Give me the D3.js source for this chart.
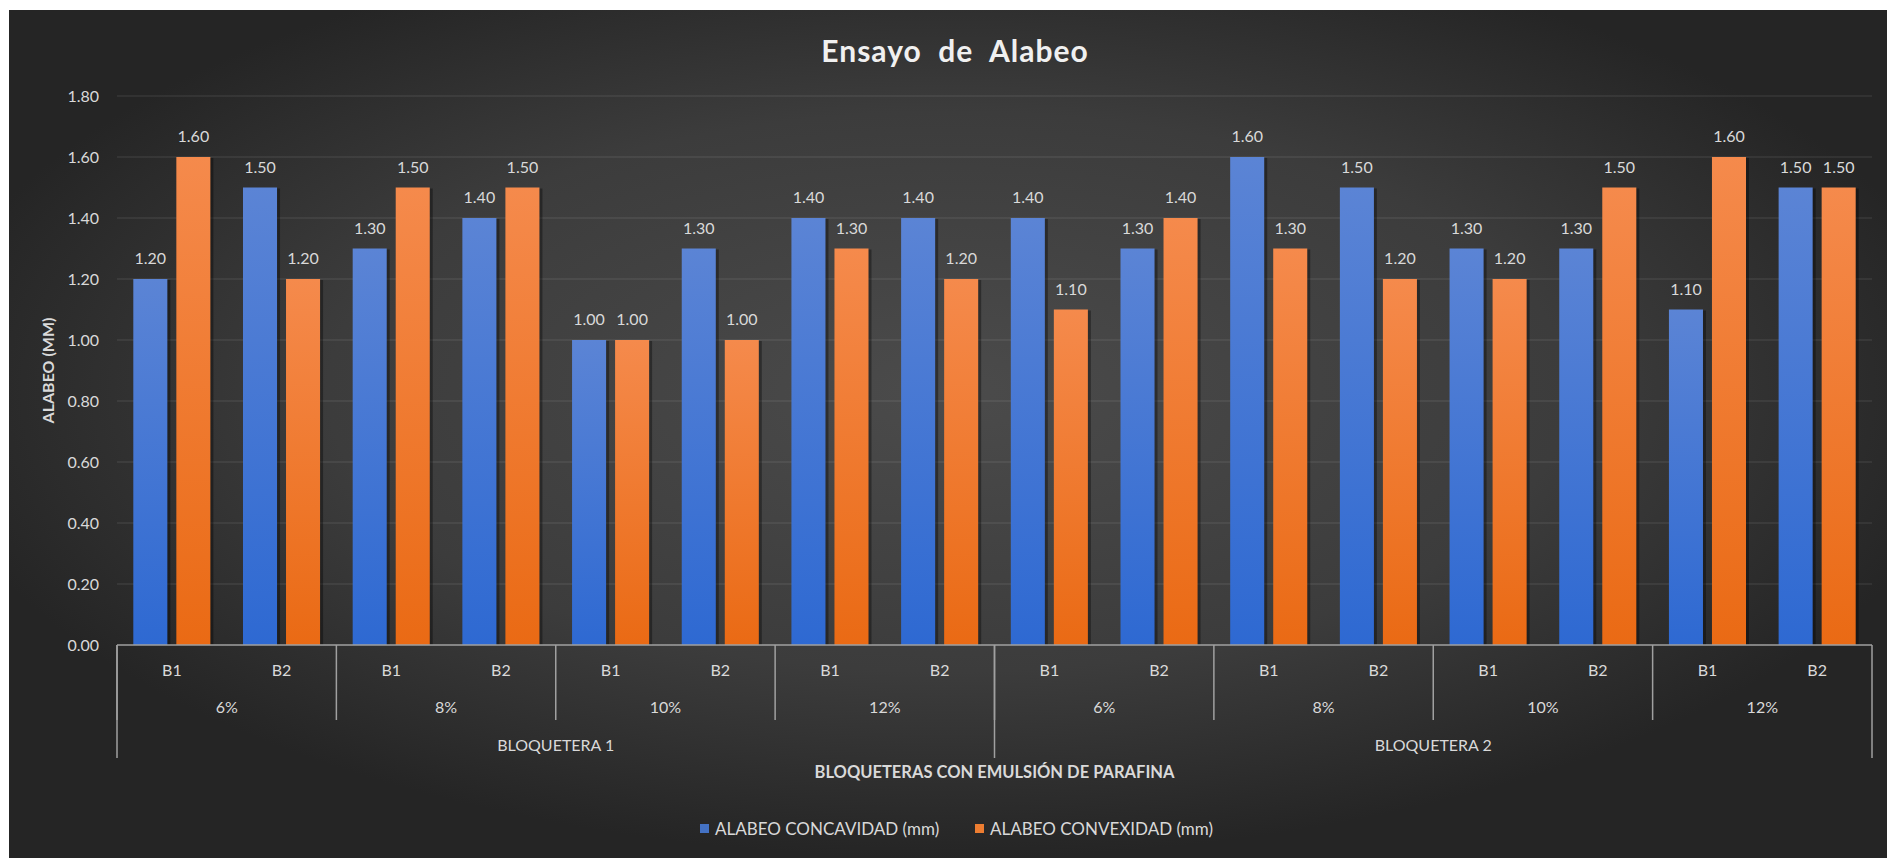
<!DOCTYPE html>
<html>
<head>
<meta charset="utf-8">
<script src="https://cdn.jsdelivr.net/npm/d3@7"></script>
<style>
  html, body { margin: 0; padding: 0; background: #ffffff; }
  svg { display: block; }
  text { font-family: Lato, "Open Sans", sans-serif; }
</style>
</head>
<body>
<svg id="chart" width="1887" height="858"></svg>
<script>
// ---------------- DATA ----------------
const titleText = "Ensayo  de  Alabeo";
const bloqueteras = ["BLOQUETERA 1", "BLOQUETERA 2"];
const porcentajes = ["6%", "8%", "10%", "12%"];
const bloques = ["B1", "B2"];
const seriesNames = ["ALABEO CONCAVIDAD (mm)", "ALABEO CONVEXIDAD (mm)"];
const concavidad = [1.20, 1.50, 1.30, 1.40, 1.00, 1.30, 1.40, 1.40,
                    1.40, 1.30, 1.60, 1.50, 1.30, 1.30, 1.10, 1.50];
const convexidad = [1.60, 1.20, 1.50, 1.50, 1.00, 1.00, 1.30, 1.20,
                    1.10, 1.40, 1.30, 1.20, 1.20, 1.50, 1.60, 1.50];
const yTicks = [0, 0.2, 0.4, 0.6, 0.8, 1.0, 1.2, 1.4, 1.6, 1.8];
const yAxisTitle = "ALABEO (MM)";
const xAxisTitle = "BLOQUETERAS CON EMULSIÓN DE PARAFINA";

(function () {
// -------------- BUILD ROWS --------------
const rows = [];
bloqueteras.forEach((bq) => {
  porcentajes.forEach((p) => {
    bloques.forEach((b) => {
      const idx = rows.length;
      rows.push({ id: idx, bq, p, b, v: [concavidad[idx], convexidad[idx]] });
    });
  });
});

// -------------- LAYOUT --------------
const W = 1887, H = 858;
const pL = 117, pR = 1872, pT = 96, pB = 645;
const textColor = "#d9d9d9";
const lineColor = "#a0a0a0";

const svg = d3.select("#chart");
const defs = svg.append("defs");

const bg = defs.append("radialGradient").attr("id", "bgGrad")
  .attr("cx", 0.5).attr("cy", 0.45).attr("r", 0.55);
bg.append("stop").attr("offset", "0%").attr("stop-color", "#4b4b4b");
bg.append("stop").attr("offset", "60%").attr("stop-color", "#3c3c3c");
bg.append("stop").attr("offset", "100%").attr("stop-color", "#252525");

const blueG = defs.append("linearGradient").attr("id", "blueGrad")
  .attr("x1", 0).attr("y1", 0).attr("x2", 0).attr("y2", 1);
blueG.append("stop").attr("offset", "0%").attr("stop-color", "#5b84d5");
blueG.append("stop").attr("offset", "100%").attr("stop-color", "#2e69d2");
const orangeG = defs.append("linearGradient").attr("id", "orangeGrad")
  .attr("x1", 0).attr("y1", 0).attr("x2", 0).attr("y2", 1);
orangeG.append("stop").attr("offset", "0%").attr("stop-color", "#f58a4c");
orangeG.append("stop").attr("offset", "100%").attr("stop-color", "#ea6a14");
const fills = ["url(#blueGrad)", "url(#orangeGrad)"];
const legendFills = ["#4472c4", "#ed7d31"];

svg.append("rect").attr("x", 9).attr("y", 10).attr("width", W - 9).attr("height", H - 10)
  .attr("fill", "url(#bgGrad)");

// scales
const x0 = d3.scaleBand().domain(rows.map(d => d.id)).range([pL, pR]).paddingInner(0).paddingOuter(0);
const x1 = d3.scaleBand().domain([0, 1]).range([0, x0.bandwidth()]).paddingInner(0.209).paddingOuter(0.379);
const y = d3.scaleLinear().domain([0, 1.8]).range([pB, pT]);

// gridlines
svg.append("g").selectAll("line").data(yTicks.filter(t => t > 0)).join("line")
  .attr("x1", pL).attr("x2", pR)
  .attr("y1", d => y(d)).attr("y2", d => y(d))
  .attr("stroke", "#ffffff").attr("stroke-opacity", 0.13).attr("stroke-width", 1);

// y axis labels
const yAxis = d3.axisLeft(y).tickValues(yTicks).tickFormat(d3.format(".2f")).tickSize(0).tickPadding(0);
const yg = svg.append("g").attr("transform", `translate(${pL - 18},0)`).call(yAxis);
yg.select(".domain").remove();
yg.selectAll("text").attr("fill", textColor).attr("font-size", 16).attr("font-family", "Lato");

// y title
svg.append("text")
  .attr("transform", `translate(47,${(pT + pB) / 2}) rotate(-90)`)
  .attr("text-anchor", "middle").attr("dominant-baseline", "central")
  .attr("font-weight", "bold").attr("font-size", 16).attr("fill", textColor)
  .text(yAxisTitle);

// bars
const groups = svg.append("g").selectAll("g").data(rows).join("g")
  .attr("transform", d => `translate(${x0(d.id)},0)`);

groups.selectAll("rect.shadow").data(d => d.v.map((v, i) => ({ v, i }))).join("rect")
  .attr("class", "shadow")
  .attr("x", d => x1(d.i) + 3).attr("y", d => y(d.v) + 1)
  .attr("width", x1.bandwidth()).attr("height", d => pB - y(d.v) - 1)
  .attr("fill", "#000").attr("fill-opacity", 0.35);

groups.selectAll("rect.bar").data(d => d.v.map((v, i) => ({ v, i }))).join("rect")
  .attr("class", "bar")
  .attr("x", d => x1(d.i)).attr("y", d => y(d.v))
  .attr("width", x1.bandwidth()).attr("height", d => pB - y(d.v))
  .attr("fill", d => fills[d.i]);

groups.selectAll("text.val").data(d => d.v.map((v, i) => ({ v, i }))).join("text")
  .attr("class", "val")
  .attr("x", d => x1(d.i) + x1.bandwidth() / 2).attr("y", d => y(d.v) - 15)
  .attr("text-anchor", "middle").attr("font-size", 16).attr("fill", textColor)
  .text(d => d3.format(".2f")(d.v));

// x axis line
svg.append("line").attr("x1", pL).attr("x2", pR).attr("y1", pB).attr("y2", pB)
  .attr("stroke", lineColor).attr("stroke-width", 1.5);

// level 1 labels (B1/B2)
svg.append("g").selectAll("text").data(rows).join("text")
  .attr("x", d => x0(d.id) + x0.bandwidth() / 2).attr("y", 676)
  .attr("text-anchor", "middle").attr("font-size", 16).attr("fill", textColor)
  .text(d => d.b);

// level 2 (percent groups)
const pctGroups = [];
bloqueteras.forEach((bq) => porcentajes.forEach((p) => {
  const ids = rows.filter(r => r.bq === bq && r.p === p).map(r => r.id);
  pctGroups.push({ p, start: x0(ids[0]), end: x0(ids[ids.length - 1]) + x0.bandwidth() });
}));
svg.append("g").selectAll("text").data(pctGroups).join("text")
  .attr("x", d => (d.start + d.end) / 2).attr("y", 713)
  .attr("text-anchor", "middle").attr("font-size", 16).attr("fill", textColor)
  .text(d => d.p);

// level 3 (bloqueteras)
const bqGroups = bloqueteras.map(bq => {
  const ids = rows.filter(r => r.bq === bq).map(r => r.id);
  return { bq, start: x0(ids[0]), end: x0(ids[ids.length - 1]) + x0.bandwidth() };
});
svg.append("g").selectAll("text").data(bqGroups).join("text")
  .attr("x", d => (d.start + d.end) / 2).attr("y", 751)
  .attr("text-anchor", "middle").attr("font-size", 16).attr("fill", textColor)
  .text(d => d.bq);

// separators
const pctBounds = pctGroups.map(g => g.start);
svg.append("g").selectAll("line").data(pctBounds).join("line")
  .attr("x1", d => d).attr("x2", d => d).attr("y1", pB).attr("y2", 720)
  .attr("stroke", lineColor).attr("stroke-width", 1.5);
const bqBounds = bqGroups.map(g => g.start).concat([bqGroups[bqGroups.length - 1].end]);
svg.append("g").selectAll("line").data(bqBounds).join("line")
  .attr("x1", d => d).attr("x2", d => d).attr("y1", pB).attr("y2", 758)
  .attr("stroke", lineColor).attr("stroke-width", 1.5);

// x axis title
svg.append("text").attr("x", (pL + pR) / 2).attr("y", 778)
  .attr("text-anchor", "middle").attr("font-weight", "bold").attr("font-size", 16.5)
  .attr("fill", textColor).text(xAxisTitle);

// title
svg.append("text").attr("x", 955).attr("y", 62)
  .attr("text-anchor", "middle").attr("font-weight", "bold").attr("font-size", 30)
  .style("white-space", "pre").attr("letter-spacing", 1)
  .attr("fill", "#f0f0f0").text(titleText);

// legend
const legendX = [700, 975];
const lg = svg.append("g").selectAll("g").data(seriesNames).join("g")
  .attr("transform", (d, i) => `translate(${legendX[i]},829)`);
lg.append("rect").attr("x", 0).attr("y", -5).attr("width", 9).attr("height", 9)
  .attr("fill", (d, i) => legendFills[i]);
lg.append("text").attr("x", 15).attr("y", 6).attr("font-size", 17).attr("fill", textColor)
  .text(d => d);
})();
</script>
</body>
</html>
